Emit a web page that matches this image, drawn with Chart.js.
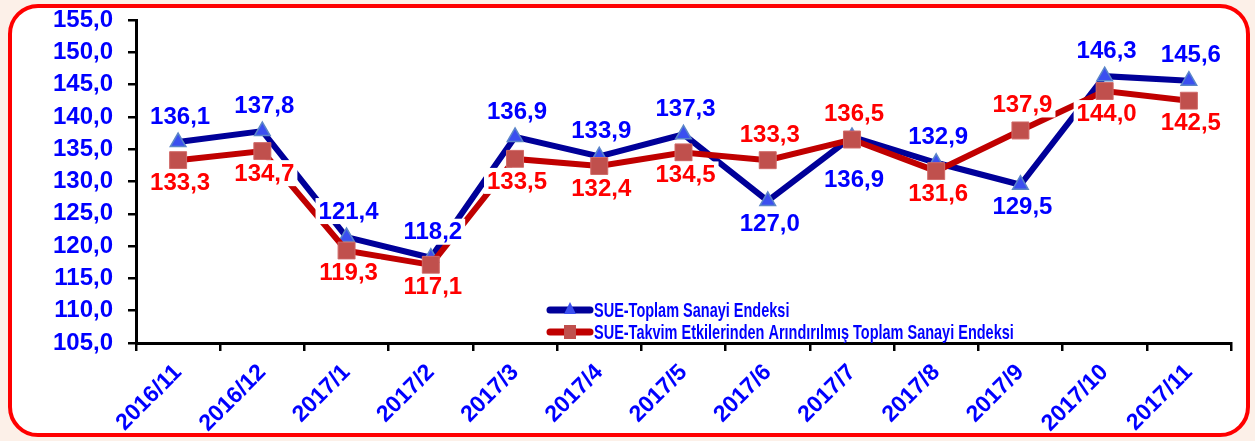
<!DOCTYPE html>
<html>
<head>
<meta charset="utf-8">
<script src="https://cdn.jsdelivr.net/npm/chart.js@4.4.0/dist/chart.umd.min.js"></script>
<style>
    html, body { margin: 0; padding: 0; background: #fcf0e8; }
    #frame {
        position: absolute; left: 8px; top: 4px;
        width: 1234px; height: 425px;
        border: 4px solid #ff0000; border-radius: 30px;
        background: #fff;
    }
    #wrap { position: absolute; left: 0; top: 0; width: 1255px; height: 441px; }
</style>
</head>
<body>
<div id="frame"></div>
<div id="wrap"><canvas id="chart" width="1255" height="441"></canvas></div>
<script>
    // Chart data
    const months = ['2016/11', '2016/12', '2017/1', '2017/2', '2017/3', '2017/4', '2017/5',
                    '2017/6', '2017/7', '2017/8', '2017/9', '2017/10', '2017/11'];
    const totalIndex = [136.1, 137.8, 121.4, 118.2, 136.9, 133.9, 137.3, 127.0, 136.9, 132.9, 129.5, 146.3, 145.6];
    const adjustedIndex = [133.3, 134.7, 119.3, 117.1, 133.5, 132.4, 134.5, 133.3, 136.5, 131.6, 137.9, 144.0, 142.5];
    const yTicks = [105, 110, 115, 120, 125, 130, 135, 140, 145, 150, 155];
    const seriesNames = ['SUE-Toplam Sanayi Endeksi', 'SUE-Takvim Etkilerinden Arındırılmış Toplam Sanayi Endeksi'];

    // where each value label sits relative to its point ('far' = below, clear of the other marker)
    const totalLabelSide = ['up', 'up', 'up', 'up', 'up', 'up', 'up', 'down', 'far', 'up', 'down', 'up', 'up'];
    const adjustedLabelSide = ['down', 'down', 'down', 'down', 'down', 'down', 'down', 'up', 'up', 'down', 'up', 'down', 'down'];

    const BLUE_TEXT = '#0000ff';
    const RED_TEXT = '#ff0000';
    const FONT = '"Liberation Sans", Arial, sans-serif';

    const fmt = v => Number(v).toFixed(1).replace('.', ',');
    const labelShift = { up: -26, down: 22, far: 42 };

    const valueLabels = {
        id: 'valueLabels',
        afterDatasetsDraw(chart) {
            const ctx = chart.ctx;
            ctx.save();
            ctx.font = 'bold 24px ' + FONT;
            ctx.textAlign = 'center';
            ctx.textBaseline = 'middle';
            chart.data.datasets.forEach((ds, i) => {
                const meta = chart.getDatasetMeta(i);
                meta.data.forEach((pt, j) => {
                    const txt = fmt(ds.data[j]);
                    const x = pt.x + 2;
                    const y = pt.y + labelShift[ds.labelSide[j]];
                    const w = ctx.measureText(txt).width + 6;
                    ctx.fillStyle = '#fff';
                    ctx.fillRect(x - w / 2, y - 13, w, 26);
                    ctx.fillStyle = ds.labelColor;
                    ctx.fillText(txt, x, y + 1);
                });
            });
            ctx.restore();
        }
    };

    const innerLegend = {
        id: 'innerLegend',
        afterDraw(chart) {
            const ctx = chart.ctx;
            const area = chart.chartArea;
            const x0 = area.left + 414;
            const rows = [area.bottom - 33, area.bottom - 11];
            ctx.save();
            chart.data.datasets.forEach((ds, i) => {
                const y = rows[i];
                ctx.strokeStyle = ds.borderColor;
                ctx.lineWidth = 7;
                ctx.lineCap = 'round';
                ctx.beginPath();
                ctx.moveTo(x0, y);
                ctx.lineTo(x0 + 40, y);
                ctx.stroke();
                ctx.fillStyle = ds.pointBackgroundColor;
                ctx.beginPath();
                if (ds.pointStyle === 'triangle') {
                    ctx.moveTo(x0 + 20, y - 8);
                    ctx.lineTo(x0 + 26, y + 4);
                    ctx.lineTo(x0 + 14, y + 4);
                    ctx.closePath();
                } else {
                    ctx.rect(x0 + 14, y - 7, 12, 14);
                }
                ctx.fill();

                ctx.fillStyle = BLUE_TEXT;
                ctx.font = 'bold 21px ' + FONT;
                ctx.textBaseline = 'middle';
                ctx.translate(x0 + 44, y + 1);
                ctx.scale(0.69, 1);
                ctx.fillText(seriesNames[i], 0, 0);
                ctx.setTransform(1, 0, 0, 1, 0, 0);
            });
            ctx.restore();
        }
    };

    new Chart(document.getElementById('chart'), {
        type: 'line',
        data: {
            labels: months,
            datasets: [
                {
                    label: seriesNames[0],
                    data: totalIndex,
                    labelSide: totalLabelSide,
                    labelColor: BLUE_TEXT,
                    borderColor: '#000099',
                    borderWidth: 6,
                    pointStyle: 'triangle',
                    pointRadius: 9,
                    pointBackgroundColor: '#3b4ff0',
                    pointBorderColor: '#5b86c8',
                    pointBorderWidth: 1.5,
                    tension: 0,
                    order: 1
                },
                {
                    label: seriesNames[1],
                    data: adjustedIndex,
                    labelSide: adjustedLabelSide,
                    labelColor: RED_TEXT,
                    borderColor: '#c00000',
                    borderWidth: 6,
                    pointStyle: 'rect',
                    pointRadius: 12,
                    pointBackgroundColor: '#c0504d',
                    pointBorderColor: '#d06a68',
                    pointBorderWidth: 1,
                    tension: 0,
                    order: 0
                }
            ]
        },
        options: {
            responsive: false,
            animation: false,
            devicePixelRatio: 1,
            layout: { padding: { top: 0, right: 24, left: 0, bottom: 0 } },
            plugins: {
                legend: { display: false },
                tooltip: { enabled: false }
            },
            scales: {
                x: {
                    offset: true,
                    grid: {
                        offset: true,
                        drawOnChartArea: false,
                        drawTicks: true,
                        tickLength: 8,
                        color: '#000',
                        lineWidth: 2.5
                    },
                    border: { display: true, color: '#000', width: 3 },
                    ticks: {
                        color: BLUE_TEXT,
                        font: { family: FONT, size: 23, weight: 'bold' },
                        minRotation: 45,
                        maxRotation: 45,
                        autoSkip: false,
                        padding: 8
                    },
                    afterFit(scale) { scale.height = 98; }
                },
                y: {
                    min: yTicks[0],
                    max: yTicks[yTicks.length - 1],
                    afterBuildTicks(scale) { scale.ticks = yTicks.map(v => ({ value: v })); },
                    grid: {
                        drawOnChartArea: false,
                        drawTicks: true,
                        tickLength: 8,
                        color: '#000',
                        lineWidth: 2.5
                    },
                    border: { display: true, color: '#000', width: 3 },
                    ticks: {
                        color: BLUE_TEXT,
                        font: { family: FONT, size: 24, weight: 'bold' },
                        autoSkip: false,
                        padding: 15,
                        callback: v => fmt(v)
                    },
                    afterFit(scale) {
                        scale.width = 136;
                        scale.paddingTop = 20;
                    }
                }
            }
        },
        plugins: [valueLabels, innerLegend]
    });
</script>
</body>
</html>
